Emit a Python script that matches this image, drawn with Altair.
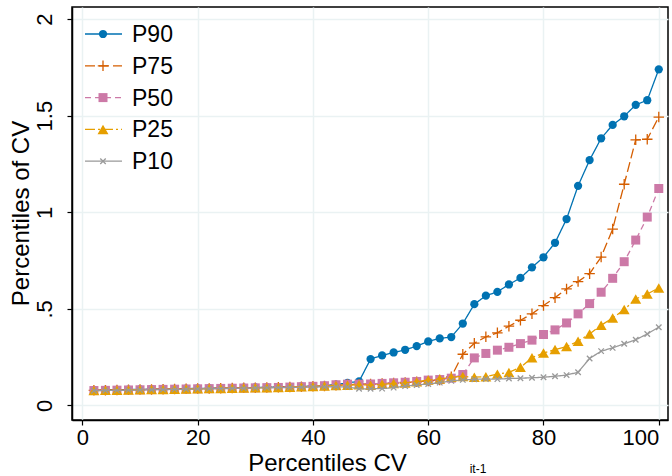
import altair as alt
import pandas as pd

# ---- data ----
pct = list(range(2, 101, 2))  # percentiles of CV_{it-1}

p90 = [0.079, 0.080, 0.081, 0.082, 0.083, 0.084, 0.085, 0.086, 0.087, 0.088, 0.089,
       0.090, 0.091, 0.092, 0.093, 0.094, 0.095, 0.096, 0.098, 0.100, 0.103,
       0.108, 0.117, 0.124, 0.240, 0.259, 0.274, 0.288, 0.307, 0.331, 0.347,
       0.354, 0.424, 0.524, 0.568, 0.588, 0.626, 0.660, 0.715, 0.767, 0.842,
       0.965, 1.137, 1.270, 1.383, 1.452, 1.497, 1.556, 1.580, 1.740]
p75 = [0.078, 0.079, 0.080, 0.081, 0.082, 0.083, 0.084, 0.085, 0.086, 0.087, 0.088,
       0.089, 0.090, 0.091, 0.092, 0.093, 0.094, 0.095, 0.097, 0.099, 0.101,
       0.105, 0.108, 0.110, 0.111, 0.113, 0.116, 0.119, 0.122, 0.127, 0.132,
       0.148, 0.265, 0.322, 0.355, 0.376, 0.410, 0.441, 0.474, 0.517, 0.558,
       0.603, 0.641, 0.682, 0.768, 0.913, 1.145, 1.375, 1.378, 1.493]
p50 = [0.077, 0.078, 0.079, 0.080, 0.081, 0.082, 0.083, 0.084, 0.085, 0.086, 0.087,
       0.088, 0.089, 0.090, 0.091, 0.092, 0.093, 0.095, 0.097, 0.099, 0.102,
       0.107, 0.110, 0.110, 0.111, 0.114, 0.117, 0.120, 0.124, 0.131, 0.134,
       0.141, 0.160, 0.246, 0.269, 0.286, 0.301, 0.320, 0.338, 0.367, 0.391,
       0.427, 0.474, 0.527, 0.586, 0.658, 0.744, 0.856, 0.975, 1.123]
p25 = [0.077, 0.078, 0.079, 0.080, 0.081, 0.082, 0.083, 0.084, 0.085, 0.086, 0.087,
       0.088, 0.089, 0.090, 0.091, 0.092, 0.093, 0.094, 0.096, 0.098, 0.100,
       0.103, 0.105, 0.107, 0.105, 0.109, 0.113, 0.116, 0.123, 0.131, 0.137,
       0.146, 0.150, 0.146, 0.149, 0.162, 0.171, 0.197, 0.247, 0.271, 0.289,
       0.305, 0.332, 0.370, 0.415, 0.453, 0.496, 0.551, 0.577, 0.608]
p10 = [0.076, 0.077, 0.078, 0.079, 0.080, 0.081, 0.082, 0.083, 0.084, 0.085, 0.086,
       0.087, 0.088, 0.089, 0.090, 0.091, 0.092, 0.093, 0.094, 0.095, 0.096,
       0.097, 0.095, 0.086, 0.086, 0.087, 0.092, 0.100, 0.106, 0.111, 0.118,
       0.127, 0.132, 0.135, 0.137, 0.136, 0.139, 0.141, 0.143, 0.146, 0.151,
       0.157, 0.172, 0.243, 0.281, 0.298, 0.319, 0.340, 0.370, 0.405]

series_names = ["P90", "P75", "P50", "P25", "P10"]
series_values = [p90, p75, p50, p25, p10]
x_ticks = [0, 20, 40, 60, 80, 100]
y_ticks = [0, 0.5, 1, 1.5, 2]

# ---- styles ----
colors = ["#0072B2", "#D55E00", "#CC79A7", "#E69F00", "#999999"]
dashes = [[1, 0], [10, 4], [6, 4], [10, 3, 2, 3], [1, 0]]
shapes = ["circle", "M-1,0H1M0,-1V1", "square", "triangle-up", "M-1,-1L1,1M-1,1L1,-1"]
sizes = [68, 110, 81, 120, 30]
filled = [True, False, True, True, False]

FONT = "Liberation Sans"
W, H = 596, 413

xscale = alt.Scale(domain=[-1.8, 101.6], nice=False, zero=False)
yscale = alt.Scale(domain=[-0.0755, 2.0626], nice=False, zero=False)

xaxis = alt.Axis(values=x_ticks, title="Percentiles CV", labelFontSize=22,
                 labelPadding=2, tickSize=5, titleFontSize=24, labelFlush=10,
                 titleX=255, titleY=50, titleAlign="center",
                 titleBaseline="alphabetic", titleFontWeight="normal")
yaxis = alt.Axis(values=y_ticks, title="Percentiles of CV", format="~g",
                 labelExpr="datum.value == 0.5 ? '.5' : datum.label",
                 labelAngle=270, labelAlign="center", labelBaseline="alphabetic",
                 labelFontSize=22, labelPadding=16, tickSize=5, titleFontSize=24,
                 titleAngle=270, titleX=-44, titleY=206, titleAlign="center",
                 titleBaseline="alphabetic", titleFontWeight="normal")

layers = []
for k, (name, vals) in enumerate(zip(series_names, series_values)):
    df = pd.DataFrame({"x": pct, "v": vals, "series": name})
    base = alt.Chart(df).encode(
        x=alt.X("x:Q", scale=xscale, axis=xaxis),
        y=alt.Y("v:Q", scale=yscale, axis=yaxis),
    )
    line = base.mark_line(color=colors[k], strokeWidth=1.3, strokeDash=dashes[k])
    pts = base.mark_point(shape=shapes[k], size=sizes[k], filled=filled[k],
                          color=colors[k], opacity=1,
                          strokeWidth=1.3 if not filled[k] else 0)
    layers += [line, pts]

# legend (inside the plot, top-left)
for k, name in enumerate(series_names):
    ldf = pd.DataFrame({"series": [name]})
    yy = 27 + 31.8 * k
    lbase = alt.Chart(ldf)
    lrule = lbase.mark_rule(color=colors[k], strokeWidth=1.3, strokeDash=dashes[k]).encode(
        x=alt.value(13), x2=alt.value(50), y=alt.value(yy))
    lpt = lbase.mark_point(shape=shapes[k], size=sizes[k], filled=filled[k],
                           color=colors[k], opacity=1,
                           strokeWidth=1.3 if not filled[k] else 0).encode(
        x=alt.value(31), y=alt.value(yy))
    ltxt = lbase.mark_text(align="left", baseline="middle", fontSize=23, font=FONT,
                           color="black").encode(
        x=alt.value(60), y=alt.value(yy + 1), text="series:N")
    layers += [lrule, lpt, ltxt]

# subscript of the x title
sub = alt.Chart(pd.DataFrame({"t": ["it-1"]})).mark_text(
    align="center", baseline="alphabetic", fontSize=12, font=FONT, color="black"
).encode(x=alt.value(406), y=alt.value(466), text="t:N")
layers.append(sub)

chart = alt.layer(*layers).properties(
    width=W, height=H,
    autosize=alt.AutoSizeParams(type="none"),
    padding={"left": 72, "top": 7, "right": 4, "bottom": 56},
    background="white",
).configure_view(
    stroke="black", strokeWidth=1.5
).configure_axis(
    labelFont=FONT, titleFont=FONT, labelColor="black", titleColor="black",
    domainColor="black", domainWidth=1.5, tickColor="black", tickWidth=1.2,
    gridColor="#EAF2F3", gridWidth=1.5, grid=True,
)

chart.save("out.html", embed_options={"renderer": "svg", "actions": False})
